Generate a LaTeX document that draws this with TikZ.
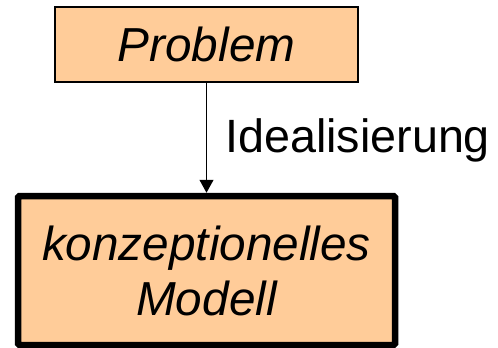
\documentclass[tikz,border=0pt]{standalone}
\usepackage{fontspec}
\setmainfont{Liberation Sans}
\usetikzlibrary{arrows.meta}
\definecolor{peach}{HTML}{FFCC99}
\tikzset{
  box/.style={draw=black, fill=peach, inner sep=0pt, align=center,
    font=\fontsize{47.7}{55}\selectfont\itshape},
  thinbox/.style={box, line width=1.5pt},
  thickbox/.style={box, line width=6.5pt, rounded corners=1.5pt},
  conn/.style={line width=1.2pt, -{Triangle[length=13pt,width=14pt]}},
  lbl/.style={font=\fontsize{46.7}{55}\selectfont, inner sep=0pt}
}
\begin{document}
\begin{tikzpicture}[x=1pt,y=-1pt]
\useasboundingbox (0,0) rectangle (498,348);
\node[thinbox, minimum width=303pt, minimum height=75pt] (prob) at (206.5,44.5) {Problem};
\node[thickbox, minimum width=377pt, minimum height=149pt] (model) at (206.5,270.5) {konzeptionelles\\Modell};
\draw[conn] (prob.south) -- (model.north);
\node[lbl, anchor=base west] (ideal) at (225,152) {Idealisierung};
\end{tikzpicture}
\end{document}
